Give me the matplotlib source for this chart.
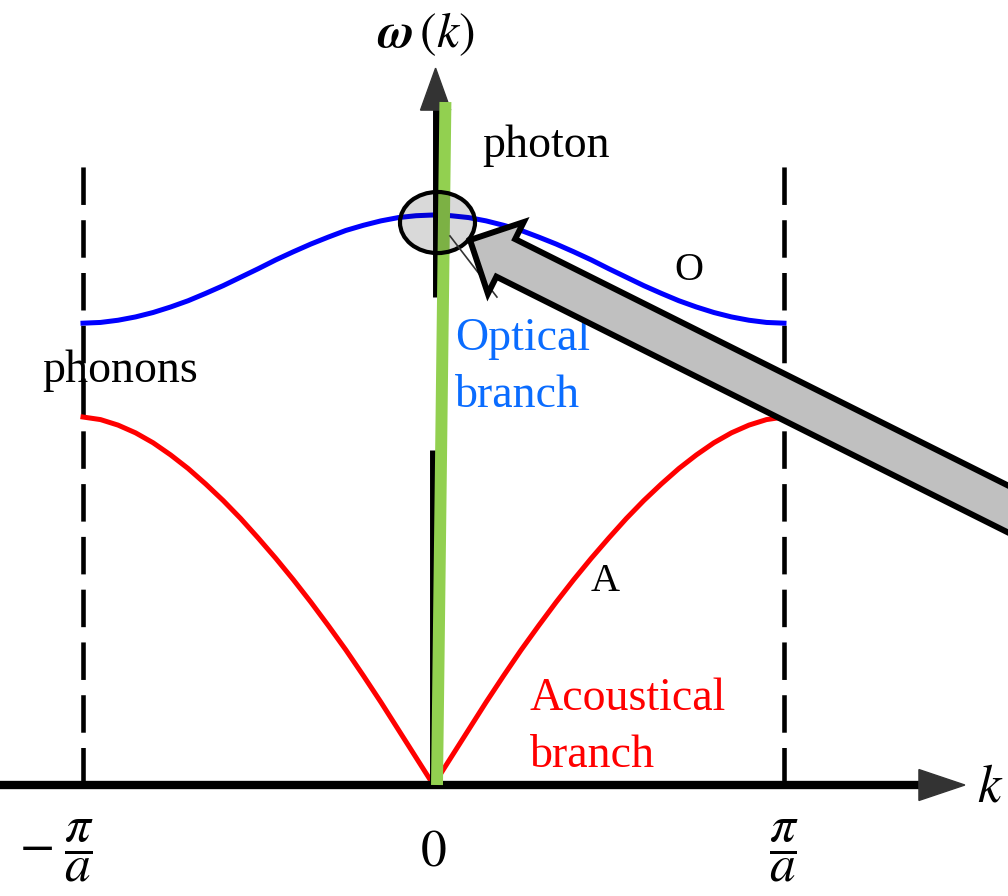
import numpy as np
import matplotlib
matplotlib.use("Agg")
import matplotlib.pyplot as plt
from matplotlib.patches import Ellipse, Polygon

plt.rcParams['mathtext.fontset'] = 'stix'
plt.rcParams['lines.scale_dashes'] = False

# wave vector in units of pi/a
k = [-1.0, -0.95, -0.9, -0.85, -0.8, -0.75, -0.7, -0.65, -0.6, -0.55, -0.5,
     -0.45, -0.4, -0.35, -0.3, -0.25, -0.2, -0.15, -0.1, -0.05, 0.0,
     0.05, 0.1, 0.15, 0.2, 0.25, 0.3, 0.35, 0.4, 0.45, 0.5,
     0.55, 0.6, 0.65, 0.7, 0.75, 0.8, 0.85, 0.9, 0.95, 1.0]

# acoustical branch, normalised to its zone-edge value
w_acoustic = [1.000, 0.993, 0.978, 0.957, 0.930, 0.897, 0.860, 0.818, 0.773, 0.724, 0.671,
              0.616, 0.558, 0.497, 0.433, 0.367, 0.297, 0.225, 0.150, 0.075, 0.000,
              0.075, 0.150, 0.225, 0.297, 0.367, 0.433, 0.497, 0.558, 0.616, 0.671,
              0.724, 0.773, 0.818, 0.860, 0.897, 0.930, 0.957, 0.978, 0.993, 1.000]

# optical branch
w_optical = [1.255, 1.257, 1.263, 1.272, 1.284, 1.299, 1.316, 1.336, 1.357, 1.380, 1.403,
             1.427, 1.449, 1.470, 1.489, 1.507, 1.521, 1.533, 1.542, 1.547, 1.549,
             1.547, 1.542, 1.533, 1.521, 1.507, 1.489, 1.470, 1.449, 1.427, 1.403,
             1.380, 1.357, 1.336, 1.316, 1.299, 1.284, 1.272, 1.263, 1.257, 1.255]

# photon line (very steep)
k_photon = [0.010, 0.034]
w_photon = [0.0, 1.856]

zone_edges = [-1.0, 1.0]
tick_pos = [-1.0, 0.0, 1.0]

W, H = 1008, 896
fig = plt.figure(figsize=(W / 100, H / 100), dpi=100)
ax = fig.add_axes([0, 0, 1, 1])
ax.set_xlim(-1.2368, 1.6391)
ax.set_ylim(-0.3016, 2.1332)
ax.axis('off')


def px2fig(x, y):
    return x / W, 1 - y / H


serif = 'Liberation Serif'

# Brillouin zone edges
for ke in zone_edges:
    ax.plot([ke, ke], [0, 1.682], color='black', lw=3.3,
            linestyle=(0, (27, 11)), zorder=2)

# dispersion branches
ax.plot(k, w_optical, color='#0000ff', lw=3.6, zorder=3)
ax.plot(k, w_acoustic, color='#ff0000', lw=3.6, zorder=3)

# k axis with arrow head
ax.plot([-1.25, 1.39], [0, 0], color='black', lw=6, solid_capstyle='butt', zorder=4)
ax.add_patch(Polygon([(1.385, 0.042), (1.516, 0.0), (1.385, -0.042)],
                     closed=True, color='#333333', zorder=4))

# omega axis (split around the optical label)
ax.plot([0, 0], [0, 0.910], color='black', lw=5, solid_capstyle='butt', zorder=4)
ax.plot([0.006, 0.006], [1.326, 1.85], color='black', lw=5, solid_capstyle='butt', zorder=4)
ax.add_patch(Polygon([(-0.037, 1.834), (0.006, 1.948), (0.049, 1.834)],
                     closed=True, color='#333333', zorder=4))

# photon
ax.plot(k_photon, w_photon, color='#92d050', lw=8.6, solid_capstyle='butt', zorder=5)

# crossing region
ax.add_patch(Ellipse((0.0114, 1.5285), 0.214, 0.166, facecolor=(0, 0, 0, 0.15),
                     edgecolor='black', lw=3, zorder=6))
ax.plot([0.047, 0.181], [1.492, 1.326], color='#333333', lw=1.2, zorder=6)

# big pointer arrow, built in pixel space so it is not skewed
tip = np.array([470.0, 240.0])
u = np.array([2.0, 1.0]) / np.sqrt(5)
n = np.array([-u[1], u[0]])
hl, hw, sw, length = 40, 40, 21, 640
tail = tip + length * u
pts = [tip, tip + hl * u + hw * n, tip + hl * u + sw * n, tail + sw * n,
       tail - sw * n, tip + hl * u - sw * n, tip + hl * u - hw * n]
ax.add_patch(Polygon([px2fig(*p) for p in pts], closed=True, transform=fig.transFigure,
                     facecolor='#c0c0c0', edgecolor='black', lw=4.3,
                     joinstyle='miter', zorder=7))

# labels
ax.text(-0.021, 2.04, r'$\boldsymbol{\omega}\,(k)$', fontsize=36, ha='center', va='center')
ax.text(1.587, -0.005, r'$k$', fontsize=38, ha='center', va='center')
ax.text(0.138, 1.707, 'photon', fontsize=33, family=serif, ha='left', va='baseline')
ax.text(0.728, 1.399, 'O', fontsize=29, family=serif, ha='center', va='center')
ax.text(0.489, 0.552, 'A', fontsize=29, family=serif, ha='center', va='center')
ax.text(0.061, 1.182, 'Optical', fontsize=33, family=serif, color='#0a6cff', va='baseline')
ax.text(0.061, 1.027, 'branch', fontsize=33, family=serif, color='#0a6cff', va='baseline')
ax.text(0.275, 0.2038, 'Acoustical', fontsize=33, family=serif, color='#ff0000', va='baseline')
ax.text(0.275, 0.0489, 'branch', fontsize=33, family=serif, color='#ff0000', va='baseline')
ax.text(-1.117, 1.095, 'phonons', fontsize=33, family=serif, va='baseline')

# zone tick labels
tick_text = [r'$-\;\dfrac{\pi}{a}$', r'$0$', r'$\dfrac{\pi}{a}$']
for kp, lab in zip(tick_pos, tick_text):
    dx = -0.075 if kp < 0 else 0.0
    ax.text(kp + dx, -0.18, lab, fontsize=37, ha='center', va='center')

fig.savefig('out.png', dpi=100)
